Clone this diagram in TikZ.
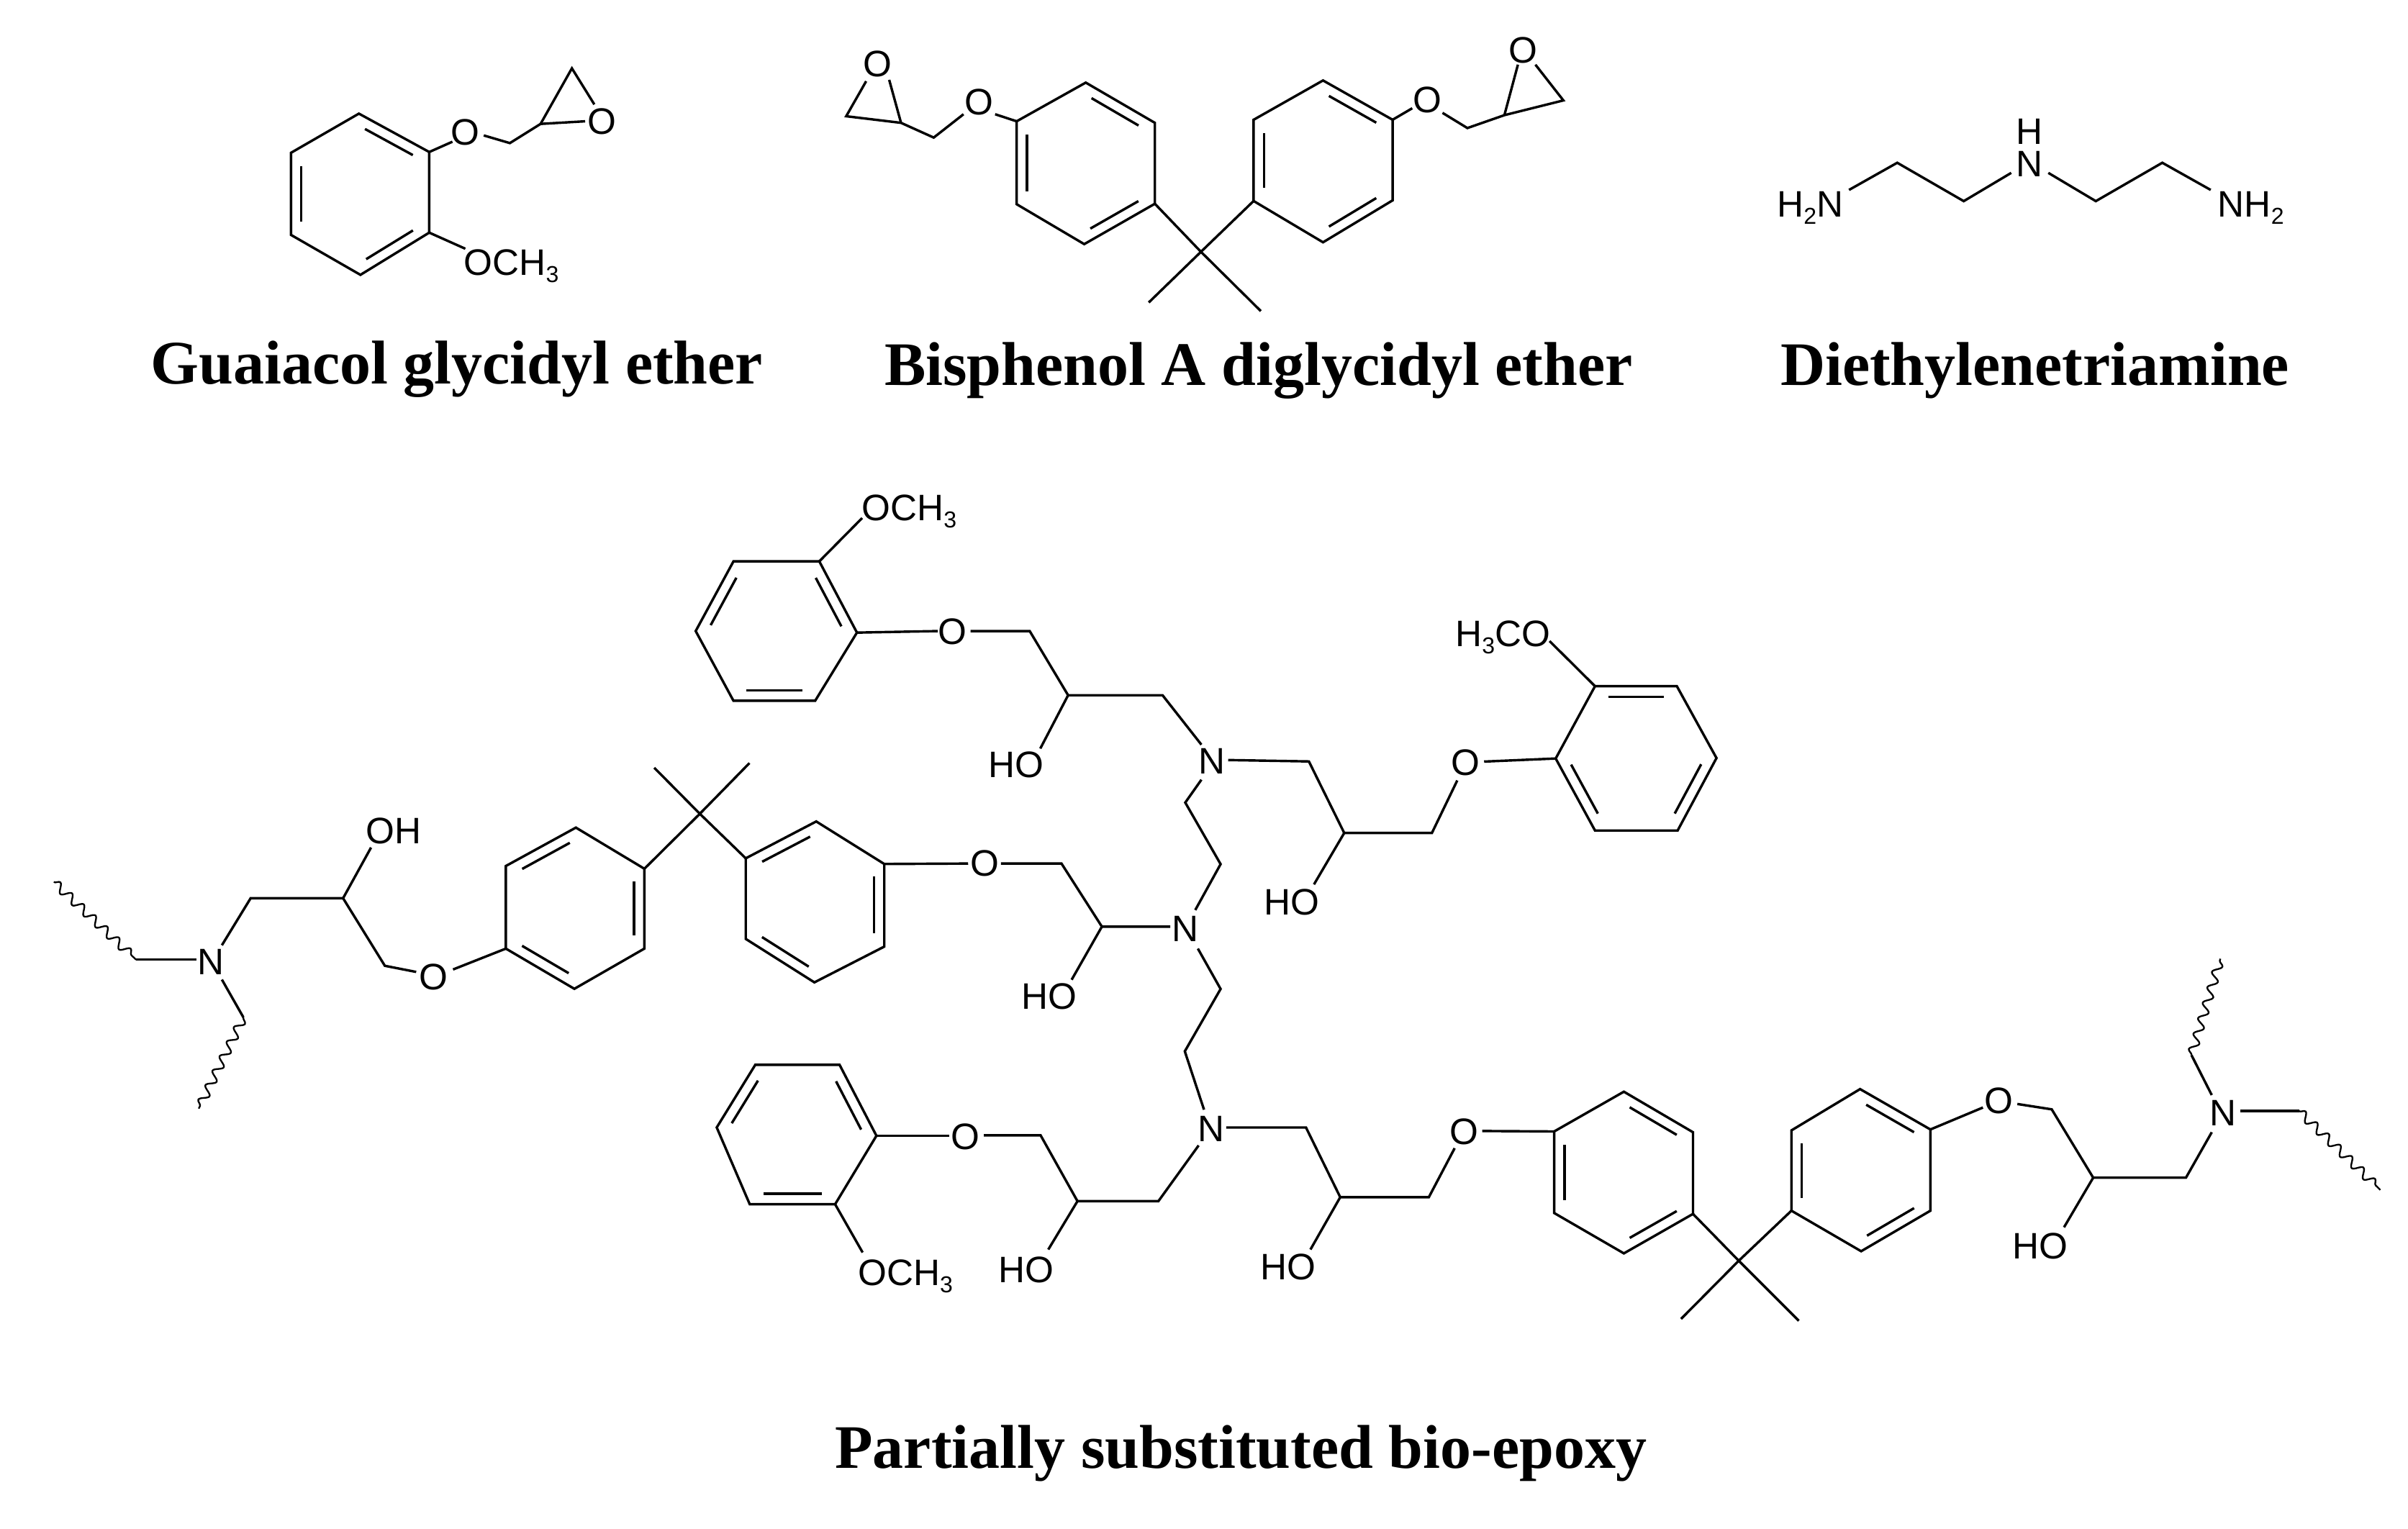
\documentclass[tikz,border=0pt]{standalone}
\usepackage{fontspec}
\setmainfont{Liberation Serif}
\newfontfamily\chemfont{Liberation Sans}
\usetikzlibrary{calc,decorations.pathmorphing}
\newcommand\lsub[1]{\smash{\raisebox{-4.5pt}{\fontsize{15}{15}\selectfont #1}}}
\newcommand\pt[2]{\coordinate (#1) at (#2);}
\newcommand\ringsix[7]{%
  \coordinate (#1-1) at (#2);\coordinate (#1-2) at (#3);\coordinate (#1-3) at (#4);
  \coordinate (#1-4) at (#5);\coordinate (#1-5) at (#6);\coordinate (#1-6) at (#7);
  \coordinate (#1-c) at ($(#1-1)!.5!(#1-4)$);
  \draw[bond] (#1-1)--(#1-2)--(#1-3)--(#1-4)--(#1-5)--(#1-6)--cycle;}
\newcommand\dbond[3]{\draw[bond] ($($(#1-#2)!.1!(#1-#3)$)!.15!(#1-c)$)--($($(#1-#3)!.1!(#1-#2)$)!.15!(#1-c)$);}
\tikzset{
  bond/.style={line width=1.6pt,black,line join=miter},
  wave/.style={line width=1.1pt,black,decorate,decoration={snake,segment length=10.5pt,amplitude=2.8pt}},
  atom/.style={inner sep=0pt,font=\chemfont\fontsize{24}{24}\selectfont},
  title/.style={inner sep=0pt,anchor=base,font=\bfseries\fontsize{40.3}{48}\selectfont}
}
\begin{document}
\begin{tikzpicture}[x=1pt,y=-1pt]
\useasboundingbox (0,0) rectangle (1568,995.8);
% titles
\node[title] (t1) at (297.5,250) {Guaiacol glycidyl ether};
\node[title] (t2) at (819.5,251) {Bisphenol A diglycidyl ether};
\node[title] (t3) at (1325,251) {Diethylenetriamine};
\node[title] (t4) at (808,956) {Partially substituted bio-epoxy};

% ---------- Guaiacol glycidyl ether
\ringsix{ga}{233.7,74}{279.5,99}{279.5,151.5}{234.7,179}{189.5,153}{189.5,99.5}
\dbond{ga}{1}{2}\dbond{ga}{3}{4}\dbond{ga}{5}{6}
\node[atom] (gaO) at (303,86) {O};
\node[atom] (gaOx) at (392,79) {O};
\node[atom,anchor=west] (gaM) at (302,171) {OCH\lsub{3}};
\pt{ga1}{315,88.2}\pt{ga2}{332,93.2}\pt{ga3}{352,80.7}\pt{ga4}{372.4,44.5}\pt{ga5}{387,68}\pt{ga6}{381,79}\pt{ga7}{294.6,92.3}\pt{ga8}{303,162}
\draw[bond] (ga-2)--(ga7);
\draw[bond] (ga1)--(ga2)--(ga3)--(ga4)--(ga5);
\draw[bond] (ga3)--(ga6);
\draw[bond] (ga-3)--(ga8);

% ---------- Bisphenol A diglycidyl ether
\ringsix{ba}{707,53.8}{752,80}{752,132.7}{706,159}{662,133}{662,79}
\dbond{ba}{1}{2}\dbond{ba}{3}{4}\dbond{ba}{5}{6}
\ringsix{bb}{861.5,52.4}{906.8,78}{906.8,130.5}{861.5,157.8}{816.3,130.9}{816.3,78}
\dbond{bb}{1}{2}\dbond{bb}{3}{4}\dbond{bb}{5}{6}
\pt{bc}{782,164}\pt{bm1}{748,197}\pt{bm2}{821,202.6}
\draw[bond] (ba-3)--(bc)--(bb-5);
\draw[bond] (bm1)--(bc)--(bm2);
\node[atom] (bO1) at (637.5,66.7) {O};
\node[atom] (bOx1) at (571.5,41.6) {O};
\node[atom] (bO2) at (929.4,65) {O};
\node[atom] (bOx2) at (992,32.8) {O};
\pt{b1}{648,74.4}\pt{b2}{627.4,74.4}\pt{b3}{608,89.6}\pt{b4}{586.7,80}\pt{b5}{551,75.7}\pt{b6}{564,52.9}\pt{b7}{579,52}
\draw[bond] (ba-6)--(b1);
\draw[bond] (b2)--(b3)--(b4)--(b5)--(b6);
\draw[bond] (b4)--(b7);
\pt{b8}{919.6,70.5}\pt{b9}{939.3,73.5}\pt{b10}{955.5,83.4}\pt{b11}{979.6,75}\pt{b12}{1018,65.4}\pt{b13}{988.4,42.1}\pt{b14}{999.8,42.1}
\draw[bond] (bb-2)--(b8);
\draw[bond] (b9)--(b10)--(b11)--(b12)--(b14);
\draw[bond] (b11)--(b13);

% ---------- Diethylenetriamine
\node[atom,anchor=west] (dl) at (1157,133) {H\lsub{2}N};
\node[atom] (dn) at (1321.5,107) {N};
\node[atom] (dh) at (1321.5,85.5) {H};
\node[atom,anchor=west] (dr) at (1444,133) {NH\lsub{2}};
\pt{d1}{1204,123.7}\pt{d2}{1235.4,106}\pt{d3}{1278.7,131}\pt{d4}{1309.6,112.6}\pt{d5}{1333.8,112.6}\pt{d6}{1364.7,131}\pt{d7}{1408,106}\pt{d8}{1439.5,123.7}
\draw[bond] (d1)--(d2)--(d3)--(d4);
\draw[bond] (d5)--(d6)--(d7)--(d8);

% ---------- Big molecule: left part
\ringsix{ra}{329.4,564}{375,539}{419.6,565.8}{419.6,617.8}{374,644}{329.4,617.8}
\dbond{ra}{1}{2}\dbond{ra}{3}{4}\dbond{ra}{5}{6}
\ringsix{rb}{531.5,535}{575.8,562.7}{575.8,616.5}{530.3,639.8}{485.6,611.5}{485.6,559}
\dbond{rb}{6}{1}\dbond{rb}{2}{3}\dbond{rb}{4}{5}
\pt{q1}{455.7,530}\pt{q1a}{426,500}\pt{q1b}{488,497}
\draw[bond] (ra-3)--(q1)--(rb-6);
\draw[bond] (q1a)--(q1)--(q1b);
\node[atom] (nL) at (137.5,626.4) {N};
\node[atom] (ohL) at (256.4,541) {OH};
\node[atom] (oL) at (282.4,636.2) {O};
\pt{l1}{35,574.4}\pt{l2}{88.6,625}\pt{l3}{128,625}\pt{l4}{144.5,615.6}\pt{l5}{163.2,585}\pt{l6}{223.4,585}\pt{l7}{241.6,552}\pt{l8}{250.6,629}\pt{l9}{271,633}\pt{l10}{295,631.4}\pt{l11}{144.5,638}\pt{l12}{158.5,662.6}\pt{l13}{129.4,722}
\draw[wave] (l1)--(l2);
\draw[bond] (l2)--(l3);
\draw[bond] (l4)--(l5)--(l6)--(l7);
\draw[bond] (l6)--(l8)--(l9);
\draw[bond] (l10)--(ra-6);
\draw[bond] (l11)--(l12);
\draw[wave] (l12)--(l13);

% central chain
\node[atom] (oB) at (641.3,562.4) {O};
\node[atom] (ohB) at (683,649) {HO};
\node[atom] (n2) at (771.8,604.7) {N};
\pt{m1}{630.4,562.4}\pt{m2}{651.8,562.4}\pt{m3}{691.2,562.4}\pt{m4}{717.5,603.5}\pt{m5}{762,603.5}\pt{m6}{697.8,638.1}
\draw[bond] (rb-2)--(m1);
\draw[bond] (m2)--(m3)--(m4)--(m5);
\draw[bond] (m4)--(m6);

% upper N and top ring
\node[atom] (n1) at (789,495.9) {N};
\pt{u1}{782.3,507.8}\pt{u2}{771.8,522.7}\pt{u3}{794.8,562.8}\pt{u4}{778.3,592.7}
\draw[bond] (u1)--(u2)--(u3)--(u4);
\ringsix{rt}{477.6,365.6}{533.5,365.6}{558,412}{530.8,456.4}{477.6,456.4}{453,411}
\dbond{rt}{2}{3}\dbond{rt}{4}{5}\dbond{rt}{6}{1}
\node[atom,anchor=west] (mT) at (561,331) {OCH\lsub{3}};
\node[atom] (oT) at (620,411.5) {O};
\node[atom] (ohT) at (661.7,498.3) {HO};
\pt{t1}{561.4,337.4}\pt{t2}{610.7,411}\pt{t3}{632,411}\pt{t4}{670.5,411}\pt{t5}{695.5,452.8}\pt{t6}{757,452.8}\pt{t7}{782.3,485}\pt{t8}{677.4,487.5}
\draw[bond] (rt-2)--(t1);
\draw[bond] (rt-3)--(t2);
\draw[bond] (t3)--(t4)--(t5)--(t6)--(t7);
\draw[bond] (t5)--(t8);

% right arm with ring u
\ringsix{ru}{1038.6,446.9}{1091.9,446.9}{1117.7,493.7}{1092.4,540.9}{1038.6,540.9}{1013,494}
\dbond{ru}{1}{2}\dbond{ru}{3}{4}\dbond{ru}{5}{6}
\node[atom,anchor=west] (mU) at (947.5,413) {H\lsub{3}CO};
\node[atom] (oU) at (954.4,496.6) {O};
\node[atom] (ohU) at (841,587.5) {HO};
\pt{v1}{799.7,495}\pt{v2}{852.3,495.9}\pt{v3}{875.3,542.5}\pt{v4}{932.4,542.5}\pt{v5}{948.9,508.3}\pt{v6}{966.4,496}\pt{v7}{855.6,576}\pt{v8}{1009,417.5}
\draw[bond] (v1)--(v2)--(v3)--(v4)--(v5);
\draw[bond] (v3)--(v7);
\draw[bond] (v6)--(ru-6);
\draw[bond] (v8)--(ru-1);

% lower N, bottom ring
\node[atom] (n3) at (788.7,735) {N};
\pt{w1}{780,617.8}\pt{w2}{794.8,644.1}\pt{w3}{771.5,684.7}\pt{w4}{784,722.7}
\draw[bond] (w1)--(w2)--(w3)--(w4);
\ringsix{rv}{491.8,693.5}{546.7,693.5}{570.7,739.7}{543.8,784.3}{488.2,784.3}{466.7,734.3}
\dbond{rv}{2}{3}\dbond{rv}{4}{5}\dbond{rv}{6}{1}
\node[atom] (oV) at (628.8,740.5) {O};
\node[atom,anchor=west] (mV) at (558.5,829) {OCH\lsub{3}};
\node[atom] (ohV) at (668.3,827) {HO};
\pt{x1}{618,739.7}\pt{x2}{640.6,739.4}\pt{x3}{677.6,739.4}\pt{x4}{701.6,782.3}\pt{x5}{754.3,782.3}\pt{x6}{780.5,746}\pt{x7}{682.6,813.8}\pt{x8}{561.7,815.7}
\draw[bond] (rv-3)--(x1);
\draw[bond] (x2)--(x3)--(x4)--(x5)--(x6);
\draw[bond] (x4)--(x7);
\draw[bond] (rv-4)--(x8);

% lower right chain
\node[atom] (oW) at (953.3,737) {O};
\node[atom] (ohW) at (839,825) {HO};
\pt{y1}{798.4,734.3}\pt{y2}{850.4,734.3}\pt{y3}{872.7,779.7}\pt{y4}{930.4,779.7}\pt{y5}{947.2,747.8}\pt{y6}{965.2,736.6}\pt{y7}{853.3,813.8}
\draw[bond] (y1)--(y2)--(y3)--(y4)--(y5);
\draw[bond] (y3)--(y7);
\ringsix{rc}{1012,736.9}{1057.4,711}{1102.4,737.4}{1102.4,790.6}{1057.4,816.3}{1012,790}
\dbond{rc}{2}{3}\dbond{rc}{4}{5}\dbond{rc}{6}{1}
\draw[bond] (y6)--(rc-1);
\ringsix{rd}{1166.5,736.2}{1211.2,709.3}{1257,735.6}{1257,788.5}{1211.9,814.9}{1166.5,788.5}
\dbond{rd}{2}{3}\dbond{rd}{4}{5}\dbond{rd}{6}{1}
\pt{q2}{1132.2,821.1}\pt{q2a}{1094.6,859}\pt{q2b}{1171.3,860.2}
\draw[bond] (rc-4)--(q2)--(rd-6);
\draw[bond] (q2a)--(q2)--(q2b);
\node[atom] (oR) at (1301.7,716.8) {O};
\node[atom] (nR) at (1447.6,724.9) {N};
\node[atom] (ohR) at (1328.5,811.8) {HO};
\pt{z1}{1291.2,721.3}\pt{z2}{1313.6,719}\pt{z3}{1336,722.5}\pt{z4}{1363,767}\pt{z5}{1423.4,767}\pt{z6}{1440.2,737.4}\pt{z7}{1344,799.3}\pt{z8}{1440.2,713.2}\pt{z9}{1427,687.2}\pt{z10}{1445.8,624.4}\pt{z11}{1458.8,723.6}\pt{z12}{1497,723.6}\pt{z13}{1550,775}
\draw[bond] (rd-3)--(z1);
\draw[bond] (z2)--(z3)--(z4)--(z5)--(z6);
\draw[bond] (z4)--(z7);
\draw[bond] (z8)--(z9);
\draw[wave] (z9)--(z10);
\draw[bond] (z11)--(z12);
\draw[wave] (z12)--(z13);
\end{tikzpicture}
\end{document}
